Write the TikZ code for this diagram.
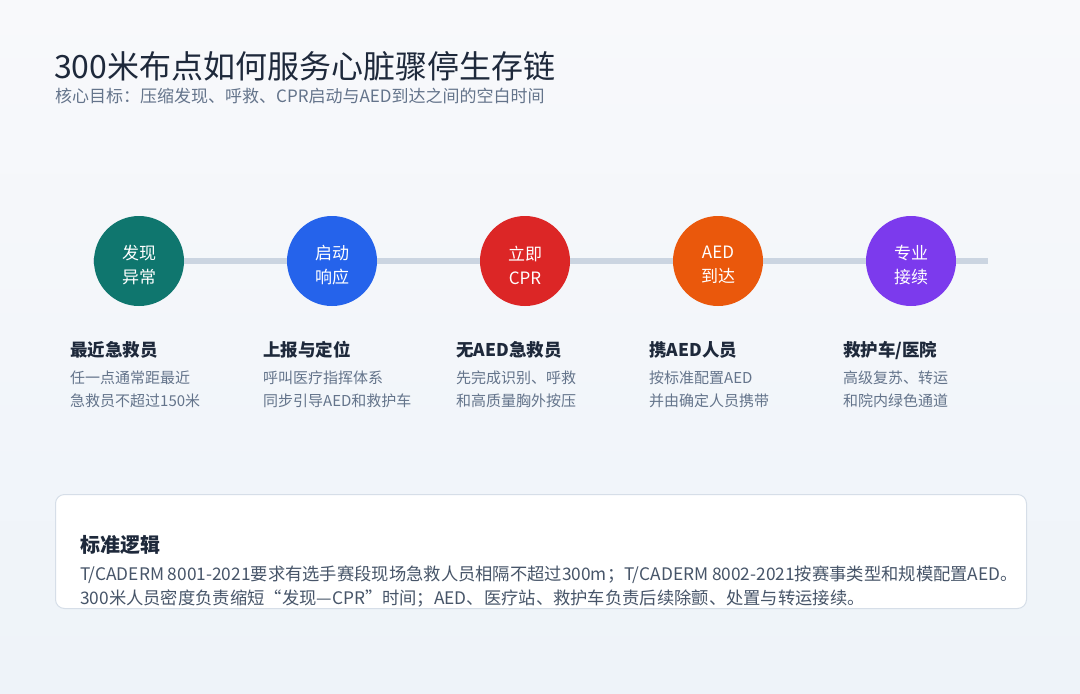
\documentclass[tikz,border=0pt]{standalone}
\usepackage{fontspec}
\setmainfont{Noto Sans CJK SC}
\usetikzlibrary{positioning}
\definecolor{titlec}{HTML}{1E293B}
\definecolor{subc}{HTML}{64748B}
\definecolor{bodyc}{HTML}{475569}
\definecolor{linec}{HTML}{CBD5E1}
\definecolor{bordc}{HTML}{D6DEE8}
\definecolor{bgtop}{HTML}{F8F9FB}
\definecolor{bgbot}{HTML}{EEF3F9}
\definecolor{cA}{HTML}{0F766E}
\definecolor{cB}{HTML}{2563EB}
\definecolor{cC}{HTML}{DC2626}
\definecolor{cD}{HTML}{EA580C}
\definecolor{cE}{HTML}{7C3AED}
\tikzset{
  stage/.style={circle, minimum size=90pt, inner sep=0pt},
  stagetxt/.style={inner sep=0pt, text=white, align=center,
    font=\fontsize{17}{24}\selectfont},
  head/.style={anchor=base west, inner sep=0pt, text=titlec, font=\fontsize{17.5}{22}\selectfont\bfseries},
  desc/.style={anchor=base west, inner sep=0pt, text=subc, font=\fontsize{15}{20}\selectfont},
  body/.style={anchor=base west, inner sep=0pt, text=bodyc, font=\fontsize{17.3}{20}\selectfont},
}
\begin{document}
\begin{tikzpicture}[x=1pt,y=-1pt]
\shade[top color=bgtop, bottom color=bgbot] (0,0) rectangle (1080,694);
\useasboundingbox (0,0) rectangle (1080,694);
% title
\node[anchor=base west, inner sep=0pt, text=titlec, font=\fontsize{32}{36}\selectfont] (title) at (54,78) {300米布点如何服务心脏骤停生存链};
\node[anchor=base west, inner sep=0pt, text=subc, font=\fontsize{17}{20}\selectfont] (sub) at (55,102) {核心目标：压缩发现、呼救、CPR启动与AED到达之间的空白时间};
% line
\coordinate (ls) at (93,261);
\coordinate (le) at (988,261);
\draw[linec, line width=6pt] (ls) -- (le);
% circles
\node[stage, fill=cA] (s1) at (139,261) {};
\node[stage, fill=cB] (s2) at (332,261) {};
\node[stage, fill=cC] (s3) at (525,261) {};
\node[stage, fill=cD] (s4) at (718,261) {};
\node[stage, fill=cE] (s5) at (911,261) {};
\node[stagetxt] (t1) at ([yshift=-4pt]s1.center) {发现\\异常};
\node[stagetxt] (t2) at ([yshift=-4pt]s2.center) {启动\\响应};
\node[stagetxt] (t3) at ([yshift=-4pt]s3.center) {立即\\CPR};
\node[stagetxt] (t4) at ([yshift=-4pt]s4.center) {AED\\到达};
\node[stagetxt] (t5) at ([yshift=-4pt]s5.center) {专业\\接续};
% headings
\node[head] (h1) at (70,356) {最近急救员};
\node[head] (h2) at (263,356) {上报与定位};
\node[head] (h3) at (456,356) {无AED急救员};
\node[head] (h4) at (649,356) {携AED人员};
\node[head] (h5) at (843,356) {救护车/医院};
% descriptions
\node[desc] (d1a) at (70,383) {任一点通常距最近};
\node[desc] (d1b) at (70,406) {急救员不超过150米};
\node[desc] (d2a) at (263,383) {呼叫医疗指挥体系};
\node[desc] (d2b) at (263,406) {同步引导AED和救护车};
\node[desc] (d3a) at (456,383) {先完成识别、呼救};
\node[desc] (d3b) at (456,406) {和高质量胸外按压};
\node[desc] (d4a) at (649,383) {按标准配置AED};
\node[desc] (d4b) at (649,406) {并由确定人员携带};
\node[desc] (d5a) at (843,383) {高级复苏、转运};
\node[desc] (d5b) at (843,406) {和院内绿色通道};
% bottom box
\node[draw=bordc, line width=1pt, fill=white, rounded corners=9pt, minimum width=971pt, minimum height=114pt, anchor=north west, inner sep=0pt] (box) at (55,494) {};
\node[anchor=base west, inner sep=0pt, text=titlec, font=\fontsize{20}{24}\selectfont\bfseries] (bh) at (80,552) {标准逻辑};
\node[body] (b1) at (80,580) {T/CADERM 8001-2021要求有选手赛段现场急救人员相隔不超过300m；T/CADERM 8002-2021按赛事类型和规模配置AED。};
\node[body] (b2) at (80,604) {300米人员密度负责缩短“发现—CPR”时间；AED、医疗站、救护车负责后续除颤、处置与转运接续。};
\end{tikzpicture}
\end{document}
